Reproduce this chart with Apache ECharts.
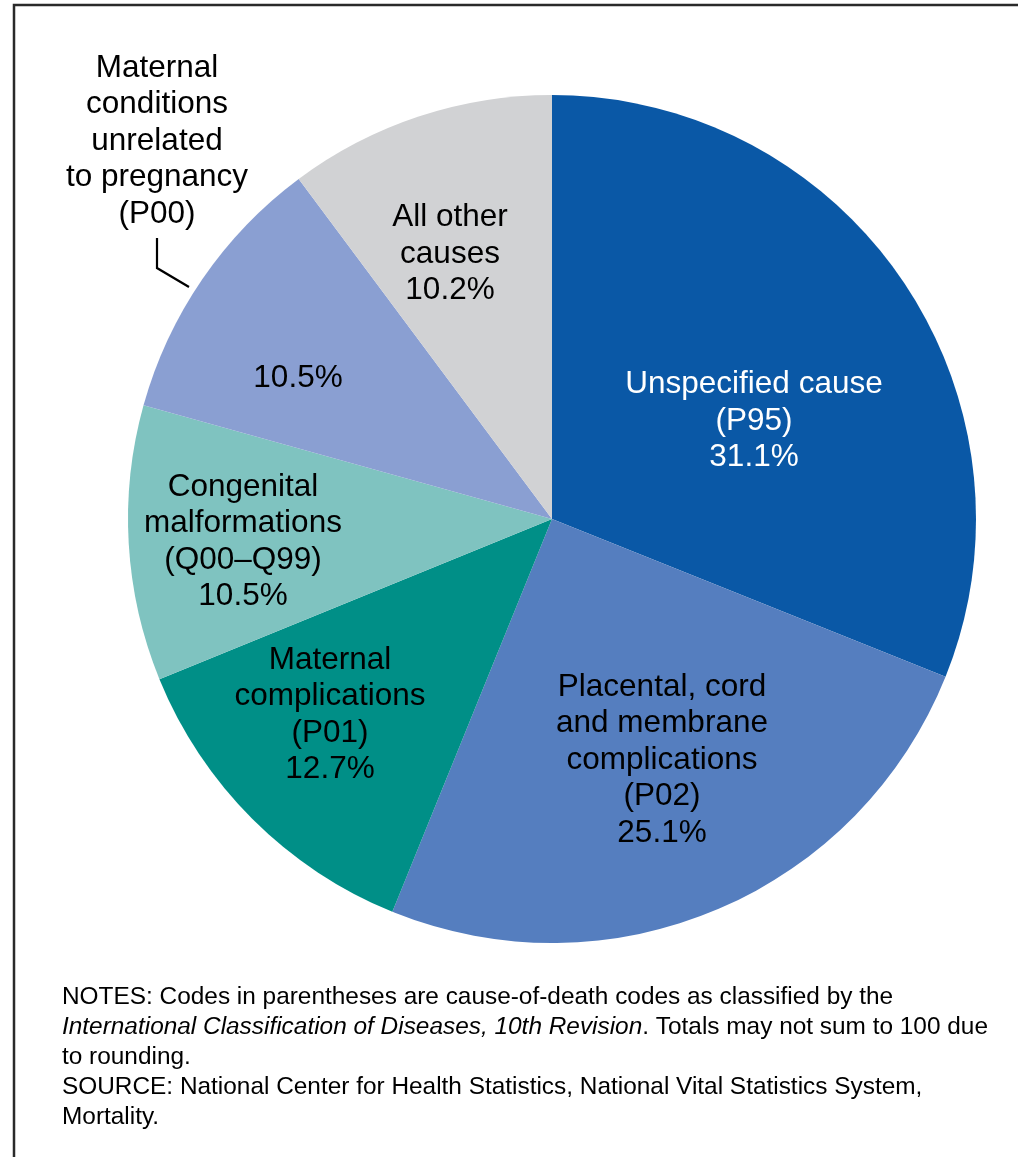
<!DOCTYPE html>
<html>
<head>
<meta charset="utf-8">
<title>Causes of fetal death</title>
<script src="https://cdn.jsdelivr.net/npm/echarts@6/dist/echarts.min.js"></script>
<style>
  html, body { margin: 0; padding: 0; background: #fff; }
  #chart { width: 1018px; height: 1157px; }
</style>
</head>
<body>
<div id="chart"></div>
<script>
// slices, clockwise from 12 o'clock
const categories = [
    'Unspecified cause\n(P95)',
    'Placental, cord\nand membrane\ncomplications\n(P02)',
    'Maternal\ncomplications\n(P01)',
    'Congenital\nmalformations\n(Q00–Q99)',
    'Maternal\nconditions\nunrelated\nto pregnancy\n(P00)',
    'All other\ncauses'
]
const values = [31.1, 25.1, 12.7, 10.5, 10.5, 10.2]
const nameOutside = [false, false, false, false, true, false]
const colors = ['#0a58a6', '#557ebf', '#008f87', '#7fc3c0', '#8a9fd2', '#d1d2d4']

// where each slice label sits (text block centre)
const labelSpots = [[754, 421], [662, 760], [330, 715], [243, 542], [298, 378], [450, 254]]

const FONT = 'Liberation Sans'
const LABEL_SIZE = 31.5
const LABEL_LH = 36.5

const chart = echarts.init(document.getElementById('chart'))

chart.setOption({
    backgroundColor: '#fff',
    animation: false,
    graphic: [
        // frame (only top and left edges show in the crop)
        {
            type: 'polyline',
            shape: { points: [[14, 1157], [14, 5], [1018, 5]] },
            style: { stroke: '#2a2a2a', lineWidth: 2.5, fill: null }
        },
        // leader line for the P00 slice
        {
            type: 'polyline',
            shape: { points: [[157, 238], [157, 268], [189, 287]] },
            style: { stroke: '#000', lineWidth: 2.2, fill: null },
            z: 10
        },
        {
            type: 'text',
            x: 157,
            y: 50,
            style: {
                text: categories[4],
                align: 'center',
                verticalAlign: 'top',
                fontFamily: FONT,
                fontSize: LABEL_SIZE,
                lineHeight: LABEL_LH,
                fill: '#000'
            }
        },
        {
            type: 'text',
            x: 62,
            y: 982,
            style: {
                rich: {
                    n: { fontFamily: FONT, fontSize: 24.4, fill: '#000', lineHeight: 30 },
                    i: { fontFamily: FONT, fontSize: 24.4, fontStyle: 'italic', fill: '#000', lineHeight: 30 }
                },
                text: '{n|NOTES: Codes in parentheses are cause-of-death codes as classified by the}\n' +
                    '{i|International Classification of Diseases, 10th Revision}{n|. Totals may not sum to 100 due}\n' +
                    '{n|to rounding.}\n' +
                    '{n|SOURCE: National Center for Health Statistics, National Vital Statistics System,}\n' +
                    '{n|Mortality.}'
            }
        }
    ],
    series: [
        {
            type: 'pie',
            center: [552, 519],
            radius: 424,
            startAngle: 90,
            clockwise: true,
            silent: true,
            data: values.map((v, i) => ({
                value: v,
                name: categories[i],
                itemStyle: { color: colors[i] },
                label: { color: i === 0 ? '#fff' : '#000' }
            })),
            itemStyle: { borderWidth: 0 },
            label: {
                show: true,
                position: 'inside',
                fontFamily: FONT,
                fontSize: LABEL_SIZE,
                lineHeight: LABEL_LH,
                align: 'center',
                formatter: p => nameOutside[p.dataIndex]
                    ? p.value.toFixed(1) + '%'
                    : p.name + '\n' + p.value.toFixed(1) + '%'
            },
            labelLine: { show: false },
            labelLayout: p => ({
                x: labelSpots[p.dataIndex][0],
                y: labelSpots[p.dataIndex][1],
                align: 'center',
                verticalAlign: 'middle'
            })
        }
    ]
})
</script>
</body>
</html>
